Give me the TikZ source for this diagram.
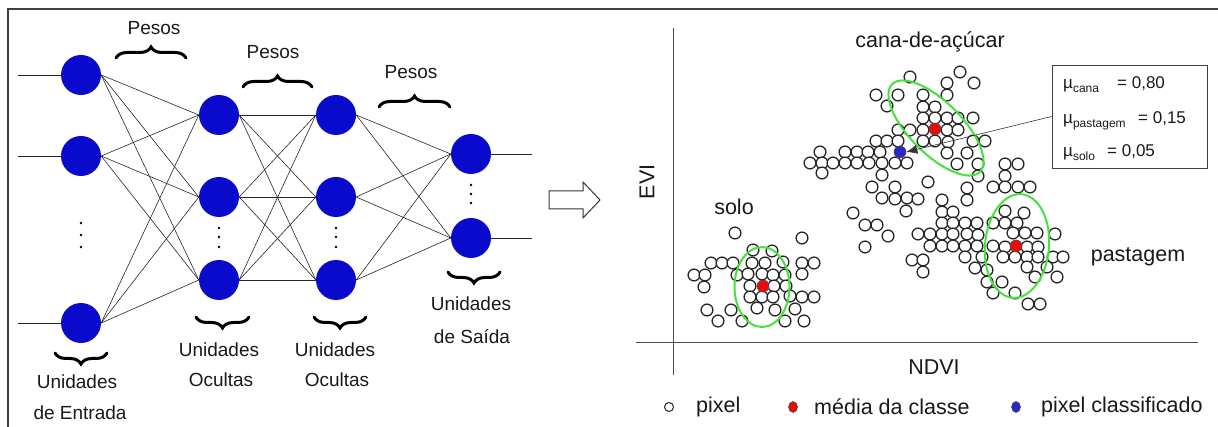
\documentclass[tikz,border=0pt]{standalone}
\usepackage{fontspec}
\setmainfont{Liberation Sans}
\usetikzlibrary{decorations.pathreplacing,arrows.meta}
\definecolor{nblue}{RGB}{10,10,205}
\definecolor{ggreen}{RGB}{70,225,60}
\definecolor{mred}{RGB}{235,10,10}
\definecolor{pblue}{RGB}{40,40,200}
\begin{document}
\begin{tikzpicture}[x=1pt,y=-1pt,
  neuron/.style={circle,fill=nblue,minimum size=40pt,inner sep=0pt},
  wire/.style={line width=0.6pt,black!85},
  cbrace/.style={decorate,decoration={brace,amplitude=11pt},line width=3pt,line cap=round},
  pix/.style={draw=black!85,fill=white,line width=1.3pt},
  mdot/.style={circle,draw=black!70,line width=0.6pt,minimum size=12pt,inner sep=0pt},
  gring/.style={draw=ggreen,line width=2pt},
  lbl/.style={font=\fontsize{19}{23}\selectfont,text=black!90},
  plbl/.style={font=\fontsize{21.5}{26}\selectfont,text=black!90},
  mlbl/.style={font=\fontsize{17}{20}\selectfont,text=black!90,anchor=base west,inner sep=0pt}]
\useasboundingbox (0,0) rectangle (1218,427);
% frame
\draw[black!75,line width=1.5pt] (8,427) -- (8,9) -- (1218,9);

% network
\node[neuron] (in1) at (81,75) {};
\node[neuron] (in2) at (81,156) {};
\node[neuron] (in3) at (81,323) {};
\foreach \i/\y in {1/115,2/197,3/280} {
  \node[neuron] (hA\i) at (219,\y) {};
  \node[neuron] (hB\i) at (336,\y) {};
}
\node[neuron] (out1) at (471,154) {};
\node[neuron] (out2) at (471,238) {};
\foreach \a in {1,2,3} {
  \draw[wire] (in\a.west) -- +(-43,0);
  \foreach \b in {1,2,3} {
    \draw[wire] (in\a.east) -- (hA\b.west);
    \draw[wire] (hA\a.east) -- (hB\b.west);
  }
  \draw[wire] (hB\a.east) -- (out1.west);
  \draw[wire] (hB\a.east) -- (out2.west);
}
\draw[wire] (out1.east) -- +(41,0);
\draw[wire] (out2.east) -- +(41,0);
% dots
\foreach \y in {223,235,247} \fill (81,\y) circle (1.4);
\foreach \y in {228,237,247} {
  \fill (219,\y) circle (1.4);
  \fill (336,\y) circle (1.4);
}
\foreach \y in {185,194,203} \fill (471,\y) circle (1.4);

% braces and labels
\draw[cbrace] (116,58) -- (186,58);
\draw[cbrace] (243,87) -- (312,87);
\draw[cbrace] (379,107) -- (450,107);
\node[lbl] (pesos1) at (154,28) {Pesos};
\node[lbl] (pesos2) at (273,52) {Pesos};
\node[lbl] (pesos3) at (411,72) {Pesos};
\draw[cbrace] (107,353) -- (55,353);
\draw[cbrace] (249,317) -- (196,317);
\draw[cbrace] (366,317) -- (314,317);
\draw[cbrace] (500,272) -- (448,272);
\node[lbl] (uin1) at (77,382) {Unidades};
\node[lbl] (uin2) at (80,413) {de Entrada};
\node[lbl] (uhA1) at (219,350) {Unidades};
\node[lbl] (uhA2) at (221,380) {Ocultas};
\node[lbl] (uhB1) at (335,350) {Unidades};
\node[lbl] (uhB2) at (337,380) {Ocultas};
\node[lbl] (uout1) at (471,304) {Unidades};
\node[lbl] (uout2) at (472,337) {de Saída};

% hollow arrow
\draw[black!80,line width=1pt] (549,191) -- (583,191) -- (583,182) -- (600,200)
  -- (583,218) -- (583,209) -- (549,209) -- cycle;

% axes
\draw[black!70,line width=1pt] (673,28) -- (673,375);
\draw[black!70,line width=1pt] (636,343) -- (1198,343);
\node[plbl,rotate=90] (evi) at (647,182) {EVI};
\node[plbl] (ndvi) at (934,367) {NDVI};
\node[plbl] (lcana) at (930,42) {cana-de-açúcar};
\node[plbl] (lsolo) at (734,207) {solo};
\node[plbl] (lpast) at (1138,257) {pastagem};

% pixels: solo
\foreach \x/\y in {735/233,802/238,753/250,772/251,
  711/263,722/263,733/263,752/263,765/263,783/262,802/263,814/263,
  694/275,705/275,737/275,748/274,762/274,773/275,785/275,802/274,
  704/287,750/286,774/286,786/286,
  750/297,762/297,773/297,790/296,802/297,814/297,
  707/310,731/310,757/308,775/310,795/309,
  718/321,742/321,785/321,804/321}
  \draw[pix] (\x,\y) circle (5.9);
% pixels: cana and centre
\foreach \x/\y in {910/77,960/72,947/83,974/83,
  876/95,898/95,923/95,947/95,
  887/106,923/107,935/107,
  923/118,935/118,947/118,958/118,973/118,
  898/130,910/130,923/130,947/130,958/130,
  876/141,887/141,898/141,923/141,935/141,948/142,973/141,985/141,
  820/152,845/152,857/152,868/152,880/152,947/153,967/153,
  810/163,822/163,833/163,845/163,857/163,869/163,882/163,895/163,907/163,957/164,978/164,
  822/173,882/175,978/176,928/182,
  872/187,895/187,882/198,895/199,907/198,918/199,
  906/211,853/213,865/225,877/225,888/236,865/247,
  912/260,923/260,923/272}
  \draw[pix] (\x,\y) circle (5.9);
% pixels: pastagem
\foreach \x/\y in {1005/164,1018/164,1005/176,
  993/187,1005/187,1018/187,1030/187,967/188,
  942/200,967/200,
  942/212,953/212,1005/211,1024/213,
  942/223,953/223,965/223,977/223,993/223,1005/223,1017/223,
  918/234,930/234,942/234,953/234,967/234,978/235,1013/233,1025/233,1037/233,1055/234,
  930/246,942/246,953/246,965/246,977/246,993/246,1005/247,1027/247,1038/247,
  965/257,982/257,1003/257,1015/257,1027/257,1038/257,1053/257,1063/257,
  975/268,987/270,1027/267,1047/267,
  1035/277,1057/277,987/282,1002/282,
  993/293,1015/293,1028/304,1040/304}
  \draw[pix] (\x,\y) circle (5.9);

% class ellipses
\draw[gring] (762,287) ellipse [x radius=27.5, y radius=40];
\draw[gring, rotate around={-45:(936,128)}] (936,128) ellipse [x radius=62, y radius=26];
\draw[gring, rotate around={-5:(1017,246)}] (1017,246) ellipse [x radius=32, y radius=52];

% class means and classified pixel
\node[mdot,fill=mred] (msolo) at (763,286) {};
\node[mdot,fill=mred] (mcana) at (935,129) {};
\node[mdot,fill=mred] (mpast) at (1016,246) {};
\node[mdot,fill=pblue] (bluepix) at (900,152) {};

% membership box
\node[draw=black!75,line width=0.8pt,minimum width=155pt,minimum height=103pt,inner sep=0pt]
  (mubox) at (1129.5,116.5) {};
\draw[black!80,line width=0.6pt,-{Latex[length=11pt,width=9pt]}] (mubox.west) -- (bluepix.east);
\node[mlbl] (mucana) at (1063,89) {µ\raisebox{-4pt}{\fontsize{12}{14}\selectfont cana}};
\node[mlbl] (vcana) at (1117,89) {= 0,80};
\node[mlbl] (mupast) at (1063,124) {µ\raisebox{-4pt}{\fontsize{12}{14}\selectfont pastagem}};
\node[mlbl] (vpast) at (1138,124) {= 0,15};
\node[mlbl] (musolo) at (1063,157) {µ\raisebox{-4pt}{\fontsize{12}{14}\selectfont solo}};
\node[mlbl] (vsolo) at (1107,157) {= 0,05};

% legend
\draw[pix,line width=1pt] (669,407) circle (4.5);
\node[plbl,anchor=west,inner sep=0pt] (lgpix) at (696,407) {pixel};
\draw[fill=mred,draw=black!70,line width=0.5pt] (793,407) ellipse [x radius=4.5, y radius=5.5];
\node[plbl,anchor=west,inner sep=0pt] (lgmed) at (814,407) {média da classe};
\draw[fill=pblue,draw=black!70,line width=0.5pt] (1016,407) ellipse [x radius=4.5, y radius=5.5];
\node[plbl,anchor=west,inner sep=0pt] (lgcls) at (1041,407) {pixel classificado};
\end{tikzpicture}
\end{document}
